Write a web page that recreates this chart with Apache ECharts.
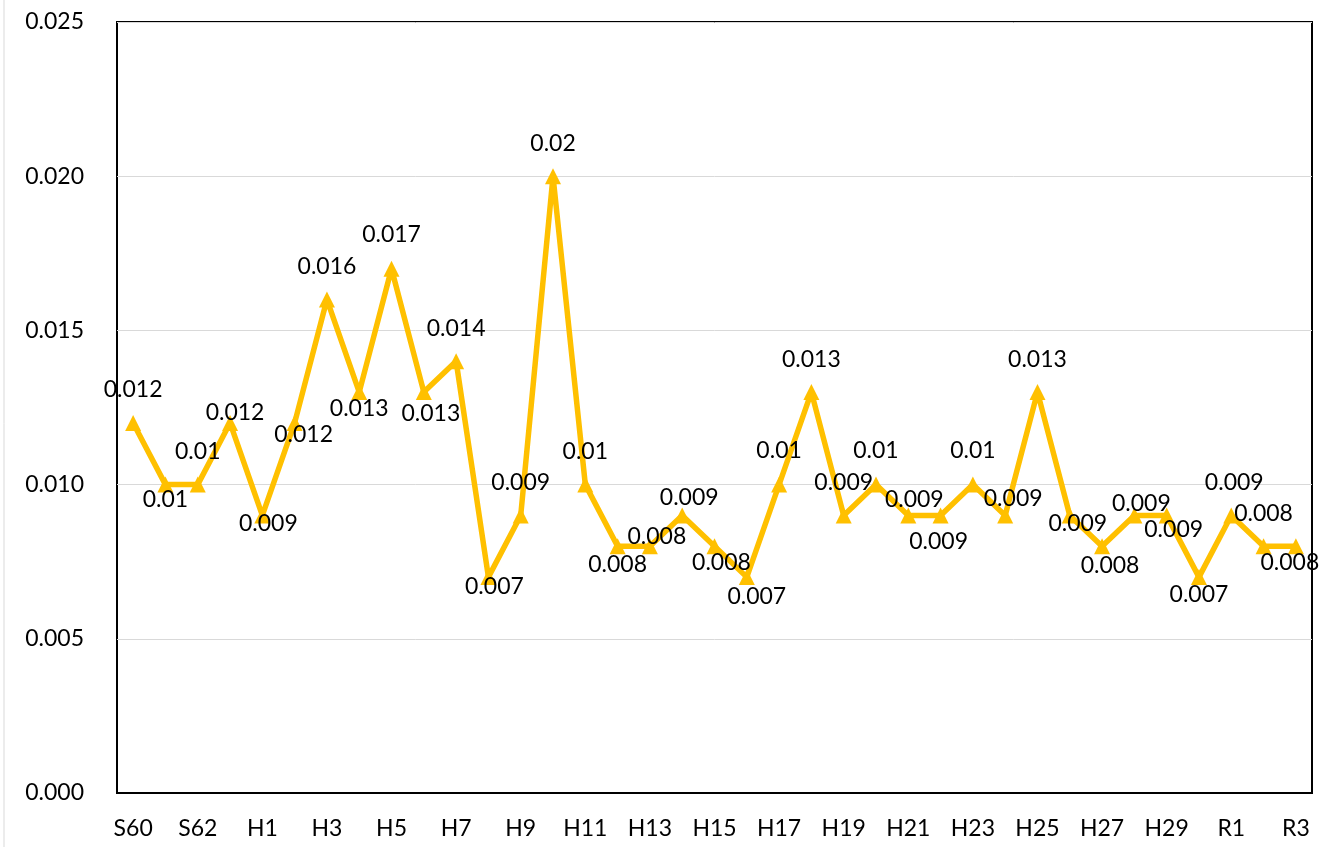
<!DOCTYPE html>
<html>
<head>
<meta charset="utf-8">
<script src="https://cdn.jsdelivr.net/npm/echarts@6/dist/echarts.min.js"></script>
<style>
html,body{margin:0;padding:0;background:#fff;}
#chart{width:1326px;height:847px;}
</style>
</head>
<body>
<div id="chart"></div>
<script>
const categories = ['S60','S61','S62','S63',
  'H1','H2','H3','H4','H5','H6','H7','H8','H9','H10',
  'H11','H12','H13','H14','H15','H16','H17','H18','H19','H20',
  'H21','H22','H23','H24','H25','H26','H27','H28','H29','H30',
  'R1','R2','R3'];
const values = [0.012,0.01,0.01,0.012,
  0.009,0.012,0.016,0.013,0.017,0.013,0.014,0.007,0.009,0.02,
  0.01,0.008,0.008,0.009,0.008,0.007,0.01,0.013,0.009,0.01,
  0.009,0.009,0.01,0.009,0.013,0.009,0.008,0.009,0.009,0.007,
  0.009,0.008,0.008];
const yTicks = [0,0.005,0.010,0.015,0.020,0.025];
// label offsets (dx, dy) from each marker centre, as placed in the original
const labelOffsets = [[0,-33],[0,15],[0,-33],[5,-10],
  [6,8],[9,12],[0,-33],[0,16],[0,-34],[7,21],[0,-33],[6,9],[0,-33],[0,-33],
  [0,-33],[0,18],[7,-10],[7,-18],[7,16],[10,19],[0,-34],[0,-33],[0,-33],[0,-34],
  [6,-16],[-2,26],[0,-34],[8,-17],[0,-33],[8,8],[8,19],[7,-12],[7,14],[0,17],
  [3,-33],[0,-33],[-6,16]];

const FONT = 'Lato';
const chart = echarts.init(document.getElementById('chart'));
chart.setOption({
  animation:false,
  backgroundColor:'#fff',
  textStyle:{fontFamily:FONT},
  graphic:[{type:'line',shape:{x1:4,y1:0,x2:4,y2:847},style:{stroke:'#d9d9d9',lineWidth:1}}],
  grid:{left:117,right:14,top:22,bottom:54,show:true,borderColor:'#000',borderWidth:2,containLabel:false},
  xAxis:{
    type:'category',
    data:categories,
    boundaryGap:true,
    axisLine:{show:true,lineStyle:{color:'#000',width:2}},
    axisTick:{show:false},
    axisLabel:{interval:1,color:'#000',fontFamily:FONT,fontSize:23,margin:24}
  },
  yAxis:{
    type:'value',
    min:yTicks[0],
    max:yTicks[yTicks.length-1],
    interval:0.005,
    axisLine:{show:false},
    axisTick:{show:false},
    splitLine:{show:true,lineStyle:{color:'#d9d9d9',width:1}},
    axisLabel:{color:'#000',fontFamily:FONT,fontSize:23,margin:33,formatter:v=>v.toFixed(3)}
  },
  series:[{
    type:'line',
    data:values.map((v,i)=>({value:v,label:{offset:labelOffsets[i]}})),
    symbol:'triangle',
    symbolSize:16,
    lineStyle:{color:'#FFC000',width:5.5},
    itemStyle:{color:'#FFC000'},
    z:3,
    label:{
      show:true,
      position:'inside',
      align:'center',
      verticalAlign:'middle',
      color:'#000',
      fontFamily:FONT,
      fontSize:23,
      formatter:p=>String(p.value)
    }
  }]
});
</script>
</body>
</html>
